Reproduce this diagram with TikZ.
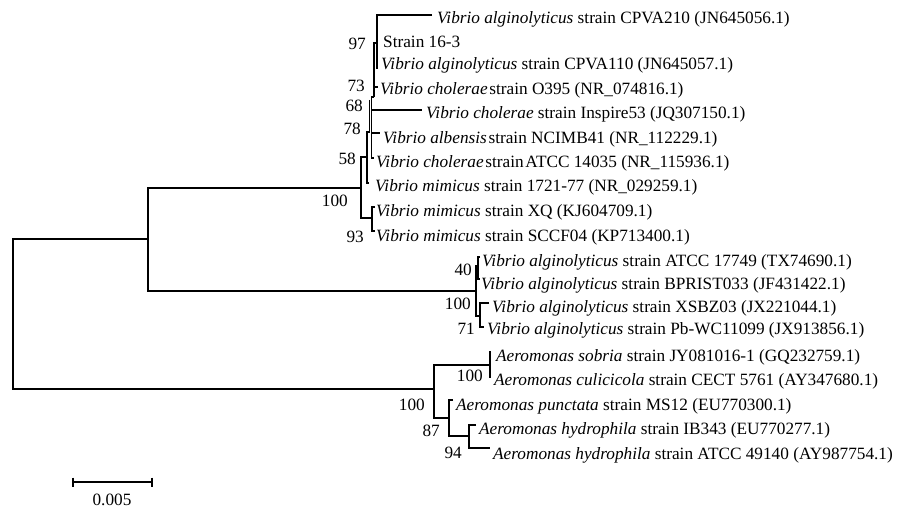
\documentclass[tikz,border=0pt]{standalone}
\usepackage{fontspec}
\setmainfont{Liberation Serif}
\begin{document}
\begin{tikzpicture}[x=1pt,y=-1pt,
  br/.style={line width=1.3pt, line join=miter},
  tip/.style={font=\fontsize{17.25}{20}\selectfont, inner sep=0pt, anchor=base west},
  bs/.style={font=\fontsize{17.25}{20}\selectfont, inner sep=0pt, anchor=east}]
\useasboundingbox[fill=white] (0,0) rectangle (914,508);
% ---- tree ----
% root
\draw[br] (148,239) -- (13,239) -- (13,389) -- (434,389);
% Vibrio node
\draw[br] (361,188) -- (148,188) -- (148,291) -- (476,291);
% top Vibrio clade (100)
\draw[br] (367,157) -- (361,157) -- (361,218) -- (372,218);
% 93
\draw[br] (375,207) -- (372,207) -- (372,231) -- (375,231);
% 58
\draw[br] (369.5,132) -- (367,132) -- (367,183) -- (369,183);
% 78 / 68
\draw[br] (369.5,100) -- (369.5,133);
\draw[br] (374,97) -- (371.5,97) -- (371.5,158) -- (374,158);
\draw[br] (371.5,110) -- (422,110);
\draw[br] (371.5,133) -- (380,133);
% 73 / 97
\draw[br] (374,97) -- (374,43) -- (377,43);
\draw[br] (374,87) -- (378,87);
\draw[br] (432,15) -- (377,15) -- (377,68) -- (378,68);
% V. alginolyticus clade (100)
\draw[br] (478,266) -- (476,266) -- (476,316) -- (480,316);
\draw[br] (480,257) -- (478,257) -- (478,279) -- (480,279);
\draw[br] (489,303) -- (480,303) -- (480,327) -- (484,327);
% Aeromonas
\draw[br] (490,365) -- (434,365) -- (434,418) -- (449,418);
\draw[br] (491,352) -- (490,352) -- (490,377) -- (491,377);
\draw[br] (453,400) -- (449,400) -- (449,436) -- (469,436);
\draw[br] (476,425) -- (469,425) -- (469,448) -- (490,448);
% ---- tip labels ----
\node[tip] (t1)  at (437,24)  {\textit{Vibrio alginolyticus} strain CPVA210 (JN645056.1)};
\node[tip] (t2)  at (383,48)  {Strain 16-3};
\node[tip] (t3)  at (381,70)  {\textit{Vibrio alginolyticus} strain CPVA110 (JN645057.1)};
\node[tip] (t4)  at (380,95)  {\textit{Vibrio cholerae}\hspace{0.1em}strain O395 (NR\_074816.1)};
\node[tip] (t5)  at (426,119) {\textit{Vibrio cholerae} strain Inspire53 (JQ307150.1)};
\node[tip] (t6)  at (383,144) {\textit{Vibrio albensis}\hspace{0.1em}strain NCIMB41 (NR\_112229.1)};
\node[tip] (t7)  at (376,168) {\textit{Vibrio cholerae}\hspace{0.1em}strain\hspace{0.1em}ATCC 14035 (NR\_115936.1)};
\node[tip] (t8)  at (375,192) {\textit{Vibrio mimicus} strain 1721-77 (NR\_029259.1)};
\node[tip] (t9)  at (376,217) {\textit{Vibrio mimicus} strain XQ (KJ604709.1)};
\node[tip] (t10) at (376,242) {\textit{Vibrio mimicus} strain SCCF04 (KP713400.1)};
\node[tip] (t11) at (482,266) {\textit{Vibrio alginolyticus} strain ATCC 17749 (TX74690.1)};
\node[tip] (t12) at (481,289) {\textit{Vibrio alginolyticus} strain BPRIST033 (JF431422.1)};
\node[tip] (t13) at (492,312) {\textit{Vibrio alginolyticus} strain XSBZ03 (JX221044.1)};
\node[tip] (t14) at (487,334) {\textit{Vibrio alginolyticus} strain Pb-WC11099 (JX913856.1)};
\node[tip] (t15) at (496,361) {\textit{Aeromonas sobria} strain JY081016-1 (GQ232759.1)};
\node[tip] (t16) at (494,385) {\textit{Aeromonas culicicola} strain CECT 5761 (AY347680.1)};
\node[tip] (t17) at (456,410) {\textit{Aeromonas punctata} strain MS12 (EU770300.1)};
\node[tip] (t18) at (479,434) {\textit{Aeromonas hydrophila} strain IB343 (EU770277.1)};
\node[tip] (t19) at (493,459) {\textit{Aeromonas hydrophila} strain ATCC 49140 (AY987754.1)};
% ---- bootstrap values ----
\node[bs] (b1)  at (366,44)  {97};
\node[bs] (b2)  at (365,86)  {73};
\node[bs] (b3)  at (363,106) {68};
\node[bs] (b4)  at (361,129) {78};
\node[bs] (b5)  at (356,159) {58};
\node[bs] (b6)  at (348,201) {100};
\node[bs] (b7)  at (364,237) {93};
\node[bs] (b8)  at (472,270) {40};
\node[bs] (b9)  at (471,304) {100};
\node[bs] (b10) at (475,329) {71};
\node[bs] (b11) at (483,376) {100};
\node[bs] (b12) at (425,405) {100};
\node[bs] (b13) at (440,431) {87};
\node[bs] (b14) at (462,453) {94};
% ---- scale bar ----
\draw[br] (73,482) -- (152,482);
\draw[br] (73,477.5) -- (73,486.5);
\draw[br] (152,477.5) -- (152,486.5);
\node[font=\fontsize{17.25}{20}\selectfont, inner sep=0pt] (sc) at (112,500) {0.005};
\end{tikzpicture}
\end{document}
